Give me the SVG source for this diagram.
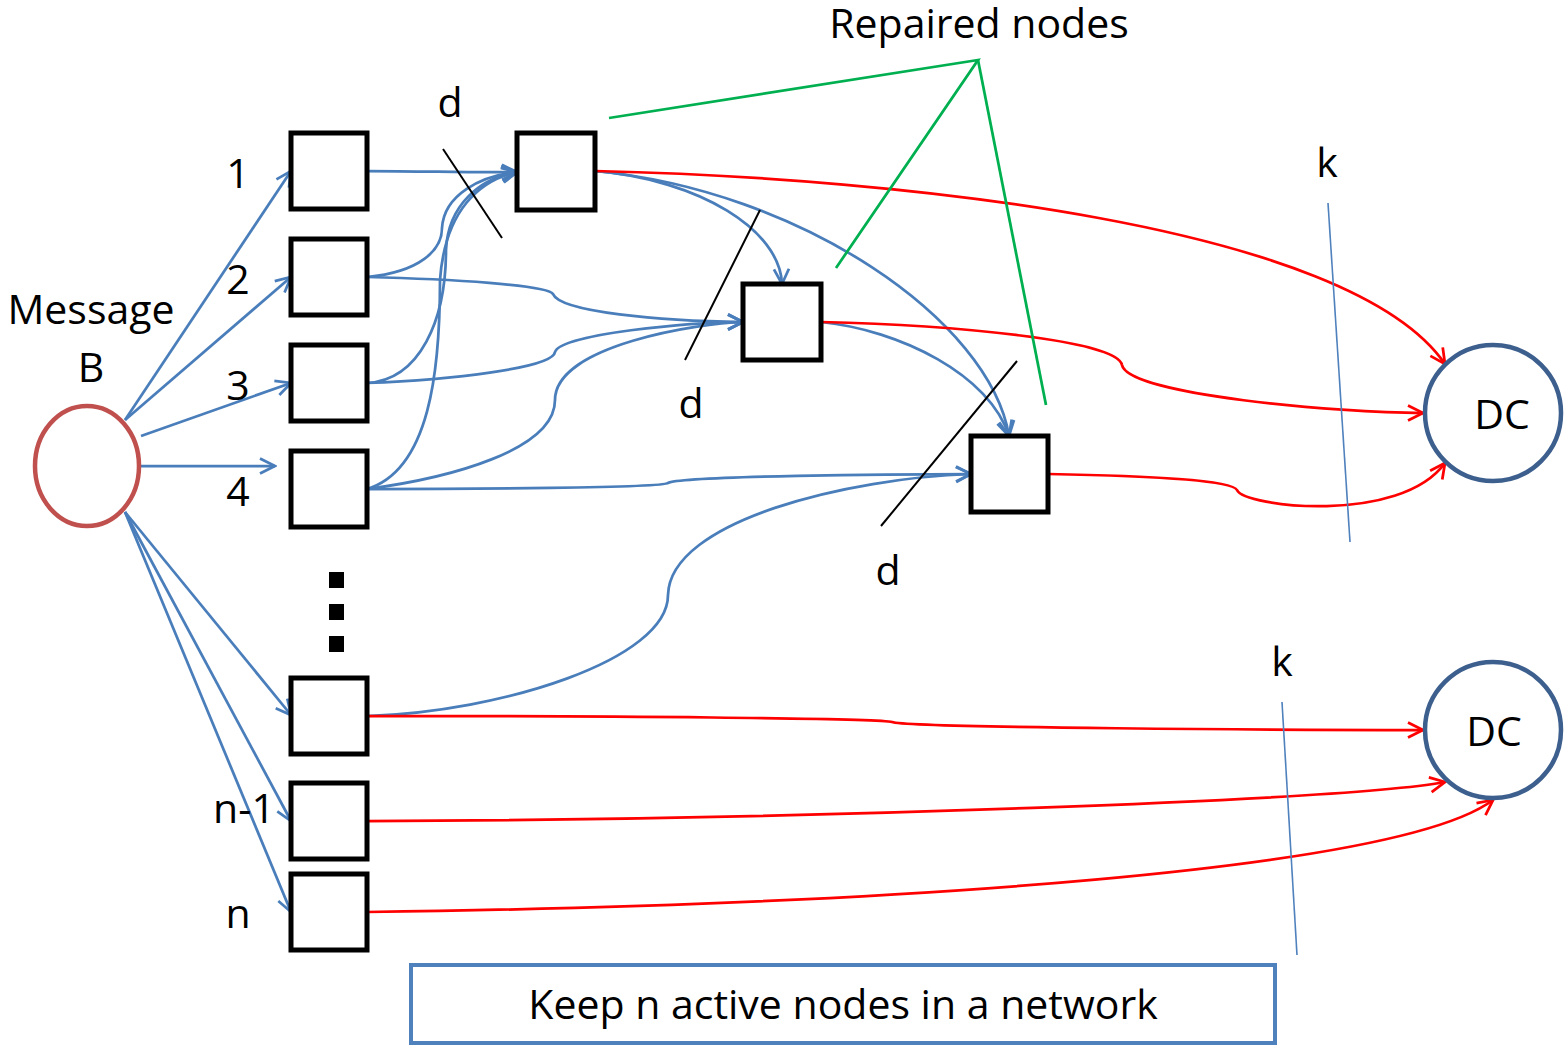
<svg xmlns="http://www.w3.org/2000/svg" width="1568" height="1048" viewBox="0 0 1568 1048">
  <style>
    .lbl { font-family: "Open Sans", Lato, "Liberation Sans", sans-serif; font-size: 41px; fill: #000; }
    .box { fill: #fff; stroke: #000; stroke-width: 5; }
    .blue { fill: none; stroke: #4A7EBB; stroke-width: 2.75; }
    .red { fill: none; stroke: #FF0000; stroke-width: 2.75; }
    .green { fill: none; stroke: #00B050; stroke-width: 2.75; }
    .cut { fill: none; stroke: #000; stroke-width: 2; }
    .kline { fill: none; stroke: #4F81BD; stroke-width: 1.6; }
    .dc { fill: #fff; stroke: #3C5F8E; stroke-width: 4.5; }
  </style>
  <defs>
    <marker id="arrowBlue" viewBox="0 0 22 22" refX="20" refY="11" markerWidth="22" markerHeight="22" markerUnits="userSpaceOnUse" orient="auto">
      <path d="M5,3.5 L20,11 L5,18.5" fill="none" stroke="#4A7EBB" stroke-width="2.75"/>
    </marker>
    <marker id="arrowRed" viewBox="0 0 22 22" refX="20" refY="11" markerWidth="22" markerHeight="22" markerUnits="userSpaceOnUse" orient="auto">
      <path d="M5,3.5 L20,11 L5,18.5" fill="none" stroke="#FF0000" stroke-width="2.75"/>
    </marker>
  </defs>

  <!-- connectors -->
  <g id="connectors">
    <!-- source to storage nodes -->
    <path class="blue" d="M125,420 L291,171" marker-end="url(#arrowBlue)"/>
    <path class="blue" d="M125,420 L291,277" marker-end="url(#arrowBlue)"/>
    <path class="blue" d="M141,436 L291,383" marker-end="url(#arrowBlue)"/>
    <path class="blue" d="M141,466 L275,466" marker-end="url(#arrowBlue)"/>
    <path class="blue" d="M125,512 L291,715" marker-end="url(#arrowBlue)"/>
    <path class="blue" d="M125,512 L291,821" marker-end="url(#arrowBlue)"/>
    <path class="blue" d="M125,512 L291,912" marker-end="url(#arrowBlue)"/>

    <!-- repair traffic into first repaired node -->
    <path class="blue" d="M367,171 C430,171 470,173 517,172" marker-end="url(#arrowBlue)"/>
    <path class="blue" d="M367,277 C420,272 442,250 442,228 C444,195 480,176 517,172" marker-end="url(#arrowBlue)"/>
    <path class="blue" d="M367,383 C420,380 446,320 446,250 C448,205 480,178 517,172" marker-end="url(#arrowBlue)"/>
    <path class="blue" d="M367,489 C430,470 440,370 440,280 C445,210 480,180 517,172" marker-end="url(#arrowBlue)"/>

    <!-- repair traffic into second repaired node -->
    <path class="blue" d="M367,277 C450,279 548,285 553,294 C560,312 660,321 743,322" marker-end="url(#arrowBlue)"/>
    <path class="blue" d="M367,383 C450,380 553,368 555,352 C560,334 690,322 743,322" marker-end="url(#arrowBlue)"/>
    <path class="blue" d="M367,489 C450,478 555,450 555,400 C555,345 700,323 743,322" marker-end="url(#arrowBlue)"/>
    <path class="blue" d="M595,171 C700,180 780,230 782,284" marker-end="url(#arrowBlue)"/>

    <!-- repair traffic into third repaired node -->
    <path class="blue" d="M367,489 C460,489 662,488 668,483 C680,476 900,474 971,474" marker-end="url(#arrowBlue)"/>
    <path class="blue" d="M367,716 C500,712 668,660 668,595 C670,520 850,478 971,474" marker-end="url(#arrowBlue)"/>
    <path class="blue" d="M595,171 C800,190 990,320 1009,436" marker-end="url(#arrowBlue)"/>
    <path class="blue" d="M821,322 C900,330 990,375 1009,436" marker-end="url(#arrowBlue)"/>

    <!-- data collector links -->
    <path class="red" d="M595,171 C900,178 1350,225 1445,364" marker-end="url(#arrowRed)"/>
    <path class="red" d="M821,322 C950,325 1118,340 1122,365 C1128,395 1340,413 1423,413" marker-end="url(#arrowRed)"/>
    <path class="red" d="M1048,474 C1150,476 1232,480 1237,490 C1244,507 1400,525 1445,463" marker-end="url(#arrowRed)"/>
    <path class="red" d="M367,716 C600,716 880,718 892,722 C905,728 1300,730 1423,730" marker-end="url(#arrowRed)"/>
    <path class="red" d="M367,821 C800,820 1350,800 1445,782" marker-end="url(#arrowRed)"/>
    <path class="red" d="M367,912 C900,905 1400,870 1493,800" marker-end="url(#arrowRed)"/>

    <!-- callout to repaired nodes -->
    <path class="green" d="M609,118 L978,60 L836,268"/>
    <path class="green" d="M978,60 L1046,405"/>

    <!-- cut lines -->
    <path class="cut" d="M443,149 L502,238"/>
    <path class="cut" d="M760,210 L685,360"/>
    <path class="cut" d="M1017,361 L881,526"/>
    <path class="kline" d="M1328,203 L1350,542"/>
    <path class="kline" d="M1282,702 L1297,955"/>
  </g>

  <!-- source -->
  <g id="source">
    <ellipse cx="87" cy="466" rx="52" ry="60" fill="#fff" stroke="#C0504D" stroke-width="4.5"/>
    <text class="lbl" x="91" y="324" text-anchor="middle">Message</text>
    <text class="lbl" x="91" y="382" text-anchor="middle">B</text>
  </g>

  <!-- storage nodes -->
  <g id="node1"><rect class="box" x="291" y="133" width="76" height="76"/><text class="lbl" x="238" y="188" text-anchor="middle">1</text></g>
  <g id="node2"><rect class="box" x="291" y="239" width="76" height="76"/><text class="lbl" x="238" y="294" text-anchor="middle">2</text></g>
  <g id="node3"><rect class="box" x="291" y="345" width="76" height="76"/><text class="lbl" x="238" y="400" text-anchor="middle">3</text></g>
  <g id="node4"><rect class="box" x="291" y="451" width="76" height="76"/><text class="lbl" x="238" y="506" text-anchor="middle">4</text></g>
  <g id="ellipsis">
    <rect x="329" y="572" width="15" height="16" fill="#000"/>
    <rect x="329" y="604" width="15" height="16" fill="#000"/>
    <rect x="329" y="636" width="15" height="16" fill="#000"/>
  </g>
  <g id="node-n2"><rect class="box" x="291" y="678" width="76" height="76"/></g>
  <g id="node-n1"><rect class="box" x="291" y="783" width="76" height="76"/><text class="lbl" x="244" y="823" text-anchor="middle">n-1</text></g>
  <g id="node-n"><rect class="box" x="291" y="874" width="76" height="76"/><text class="lbl" x="238" y="928" text-anchor="middle">n</text></g>

  <!-- repaired nodes -->
  <g id="repaired1"><rect class="box" x="517" y="133" width="78" height="77"/></g>
  <g id="repaired2"><rect class="box" x="743" y="284" width="78" height="76"/></g>
  <g id="repaired3"><rect class="box" x="971" y="436" width="77" height="76"/></g>

  <!-- data collectors -->
  <g id="dc1"><circle class="dc" cx="1493" cy="413" r="68"/><text class="lbl" x="1502" y="429" text-anchor="middle">DC</text></g>
  <g id="dc2"><circle class="dc" cx="1493" cy="730" r="68"/><text class="lbl" x="1494" y="746" text-anchor="middle">DC</text></g>

  <!-- labels -->
  <g id="labels">
    <text class="lbl" x="979" y="38" text-anchor="middle">Repaired nodes</text>
    <text class="lbl" x="450" y="117" text-anchor="middle">d</text>
    <text class="lbl" x="691" y="418" text-anchor="middle">d</text>
    <text class="lbl" x="888" y="585" text-anchor="middle">d</text>
    <text class="lbl" x="1327" y="177" text-anchor="middle">k</text>
    <text class="lbl" x="1282" y="676" text-anchor="middle">k</text>
  </g>

  <!-- caption -->
  <g id="caption">
    <rect x="411" y="965" width="864" height="78" fill="#fff" stroke="#4F81BD" stroke-width="4"/>
    <text class="lbl" x="843" y="1019" text-anchor="middle">Keep n active nodes in a network</text>
  </g>
</svg>
